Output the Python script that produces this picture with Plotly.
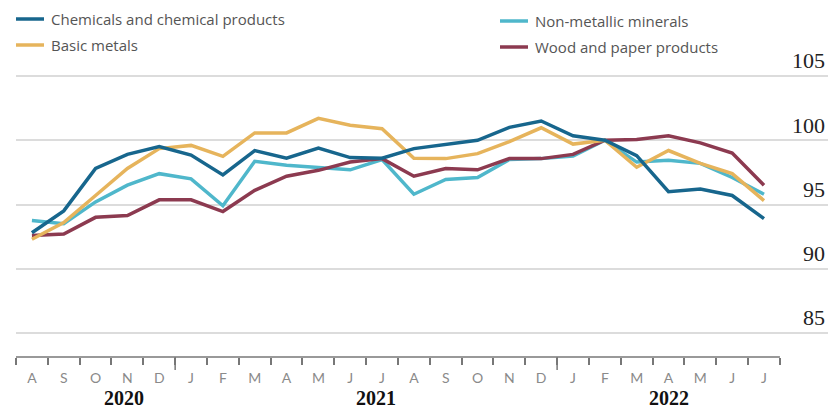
import plotly.graph_objects as go

months = ["A", "S", "O", "N", "D", "J", "F", "M", "A", "M", "J", "J",
          "A", "S", "O", "N", "D", "J", "F", "M", "A", "M", "J", "J"]
years = ["2020", "2021", "2022"]
year_pos = [2.9, 10.8, 20.0]
year_breaks = [4.5, 16.5]

chemicals = [92.8, 94.5, 97.8, 98.9, 99.5, 98.85, 97.3, 99.2, 98.6, 99.4, 98.65, 98.6,
             99.35, 99.7, 100.0, 101.0, 101.5, 100.35, 100.0, 98.8, 96.0, 96.2, 95.7, 93.9]
basic_metals = [92.3, 93.6, 95.7, 97.8, 99.35, 99.6, 98.75, 100.57, 100.57, 101.7, 101.17, 100.9,
                98.6, 98.57, 98.96, 99.9, 100.97, 99.7, 100.0, 97.9, 99.2, 98.2, 97.4, 95.3]
non_metallic = [93.75, 93.5, 95.2, 96.5, 97.4, 97.0, 94.9, 98.36, 98.05, 97.9, 97.7, 98.5,
                95.8, 96.95, 97.1, 98.5, 98.57, 98.77, 100.0, 98.3, 98.45, 98.2, 97.1, 95.8]
wood_paper = [92.58, 92.7, 94.0, 94.14, 95.36, 95.36, 94.45, 96.1, 97.2, 97.66, 98.3, 98.57,
              97.2, 97.8, 97.7, 98.57, 98.57, 98.9, 100.0, 100.05, 100.35, 99.8, 99.0, 96.5]

series = [
    ("Chemicals and chemical products", chemicals, "#17668d"),
    ("Basic metals", basic_metals, "#e6b45c"),
    ("Non-metallic minerals", non_metallic, "#4fb7cb"),
    ("Wood and paper products", wood_paper, "#8c3a50"),
]
draw_order = [2, 3, 1, 0]
y_ticks = [85, 90, 95, 100, 105]

W, H = 830, 408
ML, MR, MT, MB = 16, 2, 44, 51
PW, PH = W - ML - MR, H - MT - MB
XR = [-0.5, -0.5 + PW / 31.83]
YR = [83.132, 107.49]


def px_x(px):
    return (px - ML) / PW


def px_y(py):
    return (H - MB - py) / PH


def data_x(v):
    return (v - XR[0]) / (XR[1] - XR[0])


x = list(range(len(months)))
fig = go.Figure()
for i in draw_order:
    name, vals, col = series[i]
    fig.add_trace(go.Scatter(x=x, y=vals, mode="lines", name=name,
                             line=dict(color=col, width=3.5), showlegend=False,
                             hoverinfo="skip"))

shapes = []
annotations = []
# axis line
shapes.append(dict(type="line", xref="paper", yref="paper",
                   x0=data_x(-0.5), x1=data_x(len(months) - 0.5), y0=0, y1=0,
                   line=dict(color="#777777", width=1.5)))
for b in year_breaks:
    shapes.append(dict(type="line", xref="paper", yref="paper",
                       x0=data_x(b), x1=data_x(b), y0=0, y1=-13 / PH,
                       line=dict(color="#777777", width=1.5)))
for yr, pos in zip(years, year_pos):
    annotations.append(dict(x=pos, xref="x", y=px_y(398), yref="paper", text="<b>" + yr + "</b>",
                            showarrow=False, xanchor="center", yanchor="middle", borderpad=0,
                            font=dict(family="Liberation Serif", size=20, color="#111111")))

# manual legend (two columns)
leg_pos = [(16, 19), (16, 45), (500, 21), (500, 47)]
for (name, vals, col), (lx, ly) in zip(series, leg_pos):
    shapes.append(dict(type="line", xref="paper", yref="paper",
                       x0=px_x(lx), x1=px_x(lx + 28), y0=px_y(ly), y1=px_y(ly),
                       line=dict(color=col, width=3.5)))
    annotations.append(dict(x=px_x(lx + 33), y=px_y(ly), xref="paper", yref="paper",
                            text=name, showarrow=False, xanchor="left", yanchor="middle",
                            font=dict(family="Open Sans", size=15, color="#555555")))

fig.update_layout(
    width=W, height=H,
    margin=dict(l=ML, r=MR, t=MT, b=MB, pad=0),
    paper_bgcolor="white", plot_bgcolor="white",
    hovermode=False,
    shapes=shapes, annotations=annotations,
    xaxis=dict(range=XR, showgrid=False, zeroline=False, showline=False,
               tickmode="array", tickvals=x, ticktext=months,
               ticks="outside", ticklen=0, ticklabelstandoff=8,
               tickfont=dict(family="Lato", size=14, color="#8a8a8a"),
               minor=dict(tickmode="array", tickvals=[v - 0.5 for v in range(len(months) + 1)],
                          ticks="outside", ticklen=7, tickwidth=1.5, tickcolor="#777777")),
    yaxis=dict(range=YR, side="right", tickmode="array", tickvals=y_ticks,
               ticklabelposition="inside top", showgrid=True, gridcolor="#dcdcdc",
               gridwidth=2, zeroline=False, showline=False, ticks="",
               tickfont=dict(family="Liberation Serif", size=22, color="#222222")),
)

fig.write_html("out.html")
